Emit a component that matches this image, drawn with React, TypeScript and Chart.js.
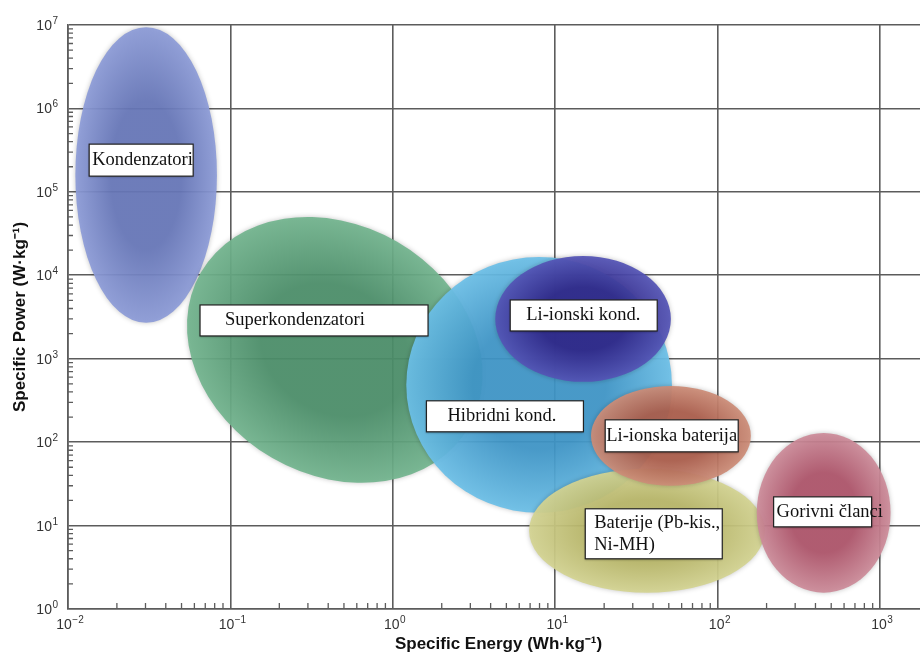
import { useEffect, useRef } from "react";
import { Chart, registerables } from "chart.js";

Chart.register(...registerables);

// ---- data ----
const technologies = [
  "Kondenzatori",
  "Superkondenzatori",
  "Hibridni kond.",
  "Li-ionski kond.",
  "Baterije (Pb-kis., Ni-MH)",
  "Li-ionska baterija",
  "Gorivni članci",
];
const labelLines = [
  ["Kondenzatori"],
  ["Superkondenzatori"],
  ["Hibridni kond."],
  ["Li-ionski kond."],
  ["Baterije (Pb-kis.,", "Ni-MH)"],
  ["Li-ionska baterija"],
  ["Gorivni članci"],
];
// Specific energy range (Wh/kg) and specific power range (W/kg) of each region
const energyMin = [0.0111, 0.049, 1.21, 4.27, 6.9, 16.6, 174];
const energyMax = [0.0826, 3.93, 52.3, 51.5, 195, 160, 1160];
const powerMin = [2690, 40.6, 14.2, 528, 1.57, 30, 1.57];
const powerMax = [9.4e6, 40000, 16600, 17000, 48, 472, 129];
const tiltDeg = [0, 30, 0, 0, 0, 0, 0];
// label anchor (left edge energy, centre power)
const labelEnergy = [0.0135, 0.065, 1.61, 5.28, 15.3, 20.3, 221];
const labelPower = [240000, 2875, 204, 3300, 7.97, 119, 14.6];

const xTickValues = [1e-2, 1e-1, 1e0, 1e1, 1e2, 1e3];
const yTickValues = [1e0, 1e1, 1e2, 1e3, 1e4, 1e5, 1e6, 1e7];
const xMin = 1e-2;
const xMax = 2000;
const yMin = 1;
const yMax = 1e7;

// ---- styles ----
const fills = [
  ["#6777b9", "#8d9cd8"],
  ["#4c8f6a", "#73b58f"],
  ["#3f96c8", "#6cc0e8"],
  ["#30288a", "#5454b6"],
  ["#b8b668", "#d4d492"],
  ["#ab5d4b", "#cd8d78"],
  ["#ae546a", "#cd8c9a"],
];
const boxW = [104, 228, 157, 147, 137, 133, 98];
const boxH = [32, 31, 31, 31, 50, 32, 30];
const textPad = [3, 25, 21, 16, 9, 1, 3];
const GRID = "#5c5c5c";
const SANS = '"Liberation Sans", Arial, sans-serif';

const exponentText = (v: number) => {
  const e = Math.round(Math.log10(v));
  return e < 0 ? "\u2212" + String(-e) : String(e);
};

function drawPowerLabel(ctx: CanvasRenderingContext2D, v: number, x: number, y: number, align: "right" | "center") {
  const base = "10";
  const exp = exponentText(v);
  ctx.font = `14px ${SANS}`;
  const wb = ctx.measureText(base).width;
  ctx.font = `10px ${SANS}`;
  const we = ctx.measureText(exp).width;
  const total = wb + we + 0.5;
  const left = align === "right" ? x - total : x - total / 2;
  ctx.textAlign = "left";
  ctx.textBaseline = "alphabetic";
  ctx.font = `14px ${SANS}`;
  ctx.fillText(base, left, y + 5);
  ctx.font = `10px ${SANS}`;
  ctx.fillText(exp, left + wb + 0.5, y - 1);
}

const regionsPlugin = {
  id: "regions",
  beforeDatasetsDraw(chart: any) {
    const { ctx, chartArea } = chart;
    const xs = chart.scales.x;
    const ys = chart.scales.y;
    ctx.save();
    // minor ticks
    ctx.strokeStyle = GRID;
    ctx.lineWidth = 1.3;
    ctx.beginPath();
    for (let d = 0; d < 7; d++) {
      for (let k = 2; k <= 9; k++) {
        const py = ys.getPixelForValue(k * Math.pow(10, d));
        ctx.moveTo(chartArea.left, py);
        ctx.lineTo(chartArea.left + 5, py);
      }
    }
    for (let d = -2; d <= 3; d++) {
      for (let k = 2; k <= 9; k++) {
        const v = k * Math.pow(10, d);
        if (v > xMax) continue;
        const px = xs.getPixelForValue(v);
        ctx.moveTo(px, chartArea.bottom);
        ctx.lineTo(px, chartArea.bottom - 6);
      }
    }
    ctx.stroke();

    // ellipses
    ctx.beginPath();
    ctx.rect(chartArea.left, chartArea.top, chartArea.right - chartArea.left, chartArea.bottom - chartArea.top);
    ctx.clip();
    for (let i = 0; i < technologies.length; i++) {
      const x0 = xs.getPixelForValue(energyMin[i]);
      const x1 = xs.getPixelForValue(energyMax[i]);
      const y0 = ys.getPixelForValue(powerMin[i]);
      const y1 = ys.getPixelForValue(powerMax[i]);
      const cx = (x0 + x1) / 2;
      const cy = (y0 + y1) / 2;
      const rx = Math.abs(x1 - x0) / 2;
      const ry = Math.abs(y0 - y1) / 2;
      ctx.save();
      ctx.globalAlpha = 0.93;
      ctx.shadowColor = "rgba(0,0,0,0.25)";
      ctx.shadowBlur = 5;
      ctx.translate(cx, cy);
      ctx.rotate((tiltDeg[i] * Math.PI) / 180);
      ctx.scale(rx, ry);
      const g = ctx.createRadialGradient(0, 0, 0, 0, 0, 1);
      g.addColorStop(0, fills[i][0]);
      g.addColorStop(0.5, fills[i][0]);
      g.addColorStop(1, fills[i][1]);
      ctx.fillStyle = g;
      ctx.beginPath();
      ctx.arc(0, 0, 1, 0, Math.PI * 2);
      ctx.fill();
      ctx.restore();
    }
    ctx.restore();
  },
  afterDatasetsDraw(chart: any) {
    const { ctx } = chart;
    const xs = chart.scales.x;
    const ys = chart.scales.y;
    ctx.save();
    ctx.font = '18.5px "Liberation Serif", serif';
    ctx.textBaseline = "middle";
    for (let i = 0; i < technologies.length; i++) {
      const left = xs.getPixelForValue(labelEnergy[i]);
      const cy = ys.getPixelForValue(labelPower[i]);
      const top = cy - boxH[i] / 2;
      ctx.shadowColor = "rgba(0,0,0,0.3)";
      ctx.shadowBlur = 2;
      ctx.shadowOffsetY = 1;
      ctx.fillStyle = "#ffffff";
      ctx.fillRect(left, top, boxW[i], boxH[i]);
      ctx.shadowColor = "transparent";
      ctx.strokeStyle = "#222";
      ctx.lineWidth = 1.2;
      ctx.strokeRect(left, top, boxW[i], boxH[i]);
      ctx.fillStyle = "#111";
      const lines = labelLines[i];
      const lh = 22;
      lines.forEach((t, j) => {
        const ty = cy + (j - (lines.length - 1) / 2) * lh;
        ctx.fillText(t, left + textPad[i], ty);
      });
    }
    ctx.restore();
  },
  afterDraw(chart: any) {
    const { ctx, chartArea } = chart;
    const xs = chart.scales.x;
    const ys = chart.scales.y;
    ctx.save();
    ctx.fillStyle = "#333";
    ys.ticks.forEach((t: any) => {
      drawPowerLabel(ctx, t.value, chartArea.left - 10, ys.getPixelForValue(t.value), "right");
    });
    xs.ticks.forEach((t: any) => {
      drawPowerLabel(ctx, t.value, xs.getPixelForValue(t.value) + 2, chartArea.bottom + 15, "center");
    });
    ctx.restore();
  },
};

export default function App() {
  const ref = useRef<HTMLCanvasElement>(null);
  useEffect(() => {
    document.body.style.margin = "0";
    document.body.style.overflow = "hidden";
    document.documentElement.style.overflow = "hidden";
    const chart = new Chart(ref.current!, {
      type: "scatter",
      data: {
        datasets: [
          {
            label: "regions",
            data: technologies.map((_, i) => ({
              x: Math.sqrt(energyMin[i] * energyMax[i]),
              y: Math.sqrt(powerMin[i] * powerMax[i]),
            })),
            pointRadius: 0,
          },
        ],
      },
      options: {
        responsive: false,
        animation: false,
        layout: { padding: { top: 25, right: 0, left: 0, bottom: 0 } },
        plugins: { legend: { display: false }, tooltip: { enabled: false } },
        scales: {
          x: {
            type: "logarithmic",
            min: xMin,
            max: xMax,
            afterBuildTicks: (s: any) => {
              s.ticks = xTickValues.map((v) => ({ value: v }));
            },
            afterFit: (s: any) => {
              s.height = 48;
            },
            grid: { color: GRID, lineWidth: 1.6, drawTicks: false },
            border: { display: true, color: GRID, width: 1.6 },
            ticks: { display: false },
            title: {
              display: true,
              text: "Specific Energy (Wh·kg⁻¹)",
              color: "#111",
              font: { family: SANS, size: 17, weight: "bold" },
              padding: { top: 0, bottom: 2 },
            },
          },
          y: {
            type: "logarithmic",
            min: yMin,
            max: yMax,
            afterBuildTicks: (s: any) => {
              s.ticks = yTickValues.map((v) => ({ value: v }));
            },
            afterFit: (s: any) => {
              s.width = 68;
            },
            grid: { color: GRID, lineWidth: 1.6, drawTicks: false },
            border: { display: true, color: GRID, width: 1.6 },
            ticks: { display: false },
            title: {
              display: true,
              text: "Specific Power (W·kg⁻¹)",
              color: "#111",
              font: { family: SANS, size: 17, weight: "bold" },
              padding: { top: 10, bottom: 0 },
            },
          },
        },
      },
      plugins: [regionsPlugin],
    } as any);
    return () => chart.destroy();
  }, []);
  return <canvas ref={ref} width={929} height={657} style={{ display: "block" }} />;
}
